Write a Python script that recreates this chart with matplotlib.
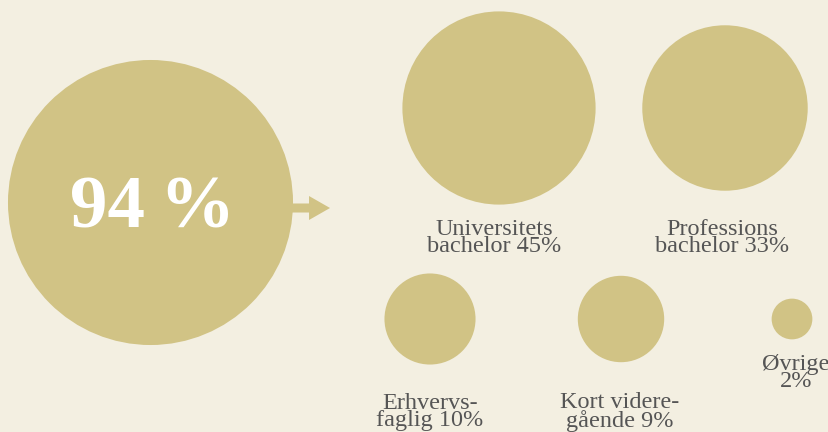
import matplotlib

matplotlib.use("Agg")
import matplotlib.pyplot as plt
from matplotlib.patches import Circle, FancyArrow
import numpy as np

# data
total_share = 94
categories = ["Universitets\nbachelor", "Professions\nbachelor", "Erhvervs-\nfaglig", "Kort videre-\ngående", "Øvrige\n"]
shares = [45, 33, 10, 9, 2]

# layout (pixel coords, y down)
centers = [(499, 108), (725, 108), (430, 319), (621, 319), (792, 319)]
label_pos = [(494, 238), (722, 238), (430, 412), (620, 412), (796, 373)]
big_center = (150.5, 202.5)

BG = "#f3efe1"
GOLD = "#d1c385"
TEXT = "#555555"
k_small = 14.4
k_big = 14.7

fig = plt.figure(figsize=(8.29, 4.32), dpi=100, facecolor=BG)
ax = fig.add_axes([0, 0, 1, 1])
ax.set_facecolor(BG)
ax.set_xlim(0, 829)
ax.set_ylim(432, 0)
ax.set_aspect("equal")
ax.axis("off")

r_big = k_big * np.sqrt(total_share)
ax.add_patch(Circle(big_center, r_big, color=GOLD, lw=0))
ax.text(153, 228, f"{total_share}\u2009%", color="white",
        fontsize=54, fontweight="bold", family="Liberation Serif", ha="center", va="baseline")

ax.add_patch(FancyArrow(big_center[0] + r_big - 2, 208, 39, 0, width=9, head_width=24,
                        head_length=21, length_includes_head=True, color=GOLD, lw=0))

for (cx, cy), (lx, ly), cat, val in zip(centers, label_pos, categories, shares):
    ax.add_patch(Circle((cx, cy), k_small * np.sqrt(val), color=GOLD, lw=0))
    first, second = cat.split("\n")
    txt = f"{first}\n{second} {val}%" if second else f"{first}\n{val}%"
    ax.text(lx, ly, txt, color=TEXT, fontsize=17.5, family="Liberation Serif",
            ha="center", va="center", multialignment="center", linespacing=0.78)

fig.savefig("out.png", dpi=100, facecolor=BG)
